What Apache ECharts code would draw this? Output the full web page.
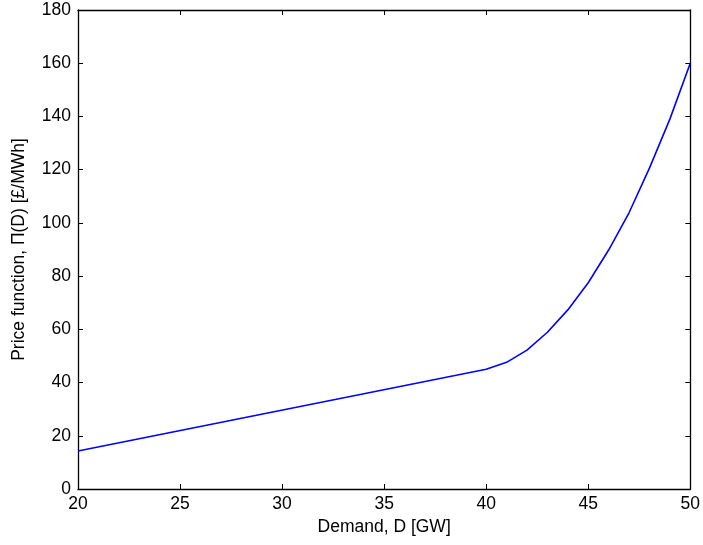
<!DOCTYPE html>
<html><head><meta charset="utf-8">
<script src="https://cdn.jsdelivr.net/npm/echarts@6/dist/echarts.min.js"></script>
<style>html,body{margin:0;padding:0;background:#fff}#c{width:703px;height:545px}</style>
</head><body><div id="c"></div>
<script>
const demand = [20, 40, 41, 42, 43, 44, 45, 46, 47, 48, 49, 50];
const price = [14.3, 45, 47.6, 52.2, 58.9, 67.3, 77.5, 89.8, 103.8, 120.6, 139, 160];
const xTicks = [20, 25, 30, 35, 40, 45, 50];
const yTicks = [0, 20, 40, 60, 80, 100, 120, 140, 160, 180];
const xLabel = 'Demand, D [GW]';
const yLabel = 'Price function, Π(D) [£/MWh]';

const font = 'Liberation Sans, Arial, Helvetica, sans-serif';
const fs = 17.5;
const axisLine = {show: true, onZero: false, lineStyle: {color: '#000', width: 1.3}};
const tick = {show: true, inside: true, length: 5, lineStyle: {color: '#000'}};
const chart = echarts.init(document.getElementById('c'));
chart.setOption({
  animation: false,
  grid: {left: 78, right: 11, top: 10, bottom: 56},
  xAxis: [{
    type: 'value', min: xTicks[0], max: xTicks[xTicks.length - 1], interval: 5,
    position: 'bottom',
    axisLine, axisTick: tick, splitLine: {show: false},
    axisLabel: {color: '#000', fontSize: fs, fontFamily: font, margin: 6},
    name: xLabel, nameLocation: 'middle', nameGap: 25,
    nameTextStyle: {color: '#000', fontSize: fs, fontFamily: font}
  }, {
    type: 'value', min: xTicks[0], max: xTicks[xTicks.length - 1], interval: 5,
    position: 'top', axisLine, axisTick: tick, axisLabel: {show: false}, splitLine: {show: false}
  }],
  yAxis: [{
    type: 'value', min: yTicks[0], max: yTicks[yTicks.length - 1], interval: 20,
    position: 'left',
    axisLine, axisTick: tick, splitLine: {show: false},
    axisLabel: {color: '#000', fontSize: fs, fontFamily: font, margin: 7},
    name: yLabel, nameLocation: 'middle', nameGap: 50,
    nameTextStyle: {color: '#000', fontSize: fs, fontFamily: font}
  }, {
    type: 'value', min: yTicks[0], max: yTicks[yTicks.length - 1], interval: 20,
    position: 'right', axisLine, axisTick: tick, axisLabel: {show: false}, splitLine: {show: false}
  }],
  series: [{
    type: 'line',
    data: demand.map((d, i) => [d, price[i]]),
    showSymbol: false,
    lineStyle: {color: '#0000ff', width: 1.6},
    itemStyle: {color: '#0000ff'}
  }]
});
</script></body></html>
